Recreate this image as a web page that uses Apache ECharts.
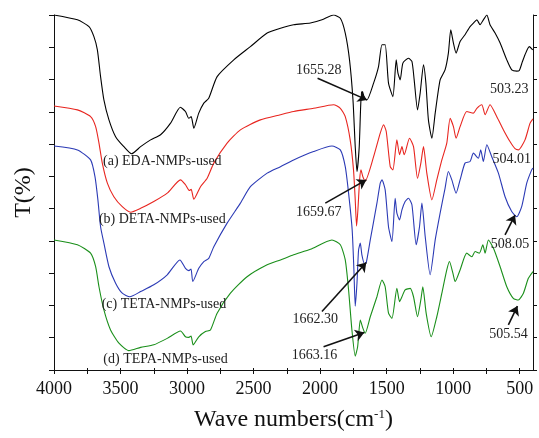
<!DOCTYPE html>
<html>
<head>
<meta charset="utf-8">
<script src="https://cdn.jsdelivr.net/npm/echarts@6/dist/echarts.min.js"></script>
<style>
  html, body { margin: 0; padding: 0; background: #fff; }
  #chart { width: 539px; height: 438px; }
</style>
</head>
<body>
<div id="chart"></div>
<script>
// FTIR spectra, [wave number, T] pairs (T in arbitrary units 0-110)
var edaSpectrum = [
  [4000,110],[3824,108.5],[3737,106.4],[3700,103.3],[3674,99.2],[3650,90.9],[3625,83.7],[3587,77.5],
  [3537,72.3],[3475,69.2],[3417,67.0],[3349,69.2],[3274,71.3],[3199,72.9],[3124,76.5],[3050,81.4],
  [3012,80.1],[2987,78.0],[2969,78.5],[2949,74.9],[2912,79.6],[2874,82.7],[2837,84.2],[2774,90.9],
  [2649,96.1],[2524,100.2],[2398,104.4],[2298,105.9],[2199,107.0],[2073,107.5],[1986,108.5],[1899,110],
  [1848,109.0],[1811,104.4],[1779,96.1],[1753,83.7],[1736,69.2],[1723,61.5],[1706,69.2],[1693,83.7],
  [1681,86.3],[1668,84.2],[1648,83.7],[1598,88.9],[1561,94.0],[1535,100.8],[1511,100.8],[1486,88.9],
  [1453,84.7],[1428,96.1],[1415,92.0],[1398,89.9],[1378,95.1],[1336,96.6],[1310,95.6],[1293,89.9],
  [1268,80.6],[1248,85.8],[1223,94.6],[1205,88.9],[1186,77.5],[1160,71.8],[1135,79.6],[1098,89.9],
  [1061,93.0],[1036,98.2],[1018,105.4],[998,101.3],[978,98.2],[948,101.8],[911,103.9],[873,106.4],
  [848,107.5],[822,108.5],[798,107.0],[773,108.5],[747,110],[723,107.0],[685,104.4],[647,101.3],
  [597,96.1],[560,93.0],[522,92.6],[503,92.8],[480,95.5],[460,97.7],[428,100.2],[402,99.2]
];
var detaSpectrum = [
  [4000,81.8],[3824,80.6],[3725,78.5],[3687,75.4],[3662,70.3],[3637,64.1],[3599,57.9],[3550,53.7],
  [3487,50.6],[3424,48.9],[3349,50.1],[3250,52.2],[3149,54.8],[3049,58.9],[3012,57.4],[2982,55.6],
  [2969,56.0],[2949,52.9],[2899,56.8],[2849,59.4],[2799,64.1],[2699,70.3],[2599,74.4],[2449,77.5],
  [2299,79.1],[2199,80.1],[2049,81.1],[1899,82.2],[1848,81.1],[1811,78.5],[1774,71.3],[1749,62.0],
  [1736,52.7],[1726,44.6],[1716,49.6],[1703,58.9],[1693,62.0],[1678,59.8],[1661,58.6],[1598,66.1],
  [1548,73.4],[1523,76.0],[1503,73.9],[1473,63.0],[1453,62.0],[1423,71.3],[1403,66.7],[1385,69.2],
  [1368,66.7],[1328,71.8],[1298,69.2],[1268,59.4],[1243,64.1],[1223,69.2],[1198,61.0],[1160,52.7],
  [1123,58.9],[1085,65.1],[1048,70.3],[1023,78.0],[998,75.4],[978,71.8],[948,75.4],[898,80.1],
  [848,79.6],[822,81.1],[785,82.2],[760,79.1],[723,82.2],[672,78.5],[622,74.4],[573,70.8],
  [535,68.6],[510,68.2],[460,71.3],[422,76.5],[400,77.8]
];
var tetaSpectrum = [
  [4000,69.4],[3824,68.2],[3725,65.1],[3692,59.9],[3670,52.7],[3650,44.4],[3625,39.3],[3587,32.0],
  [3537,26.9],[3487,23.8],[3430,22.7],[3349,24.3],[3250,26.4],[3149,29.5],[3054,34.1],[3012,31.5],
  [2987,30.8],[2970,31.3],[2957,27.4],[2912,31.5],[2874,33.6],[2837,34.6],[2799,38.2],[2699,45.5],
  [2599,51.7],[2524,56.8],[2398,61.0],[2298,63.0],[2199,65.1],[2049,67.7],[1911,69.4],[1848,68.2],
  [1811,63.0],[1786,54.8],[1759,43.4],[1746,31.0],[1736,19.8],[1723,26.9],[1711,37.2],[1698,39.3],
  [1686,35.7],[1668,33.1],[1653,33.3],[1623,40.3],[1573,51.7],[1548,57.9],[1535,58.9],[1511,55.8],
  [1486,44.4],[1460,39.8],[1436,53.2],[1423,48.6],[1403,46.5],[1385,49.6],[1361,52.2],[1336,53.2],
  [1310,51.2],[1278,38.8],[1253,44.4],[1235,51.7],[1210,41.3],[1173,29.5],[1135,40.3],[1098,48.6],
  [1061,56.3],[1036,61.5],[1010,58.9],[978,54.8],[948,58.9],[911,64.1],[873,64.6],[848,67.2],
  [811,65.6],[793,68.2],[773,64.6],[747,69.8],[710,66.1],[660,61.0],[610,53.7],[560,49.1],
  [522,47.5],[485,50.6],[447,57.9],[410,62.0],[400,62.6]
];
var tepaSpectrum = [
  [4000,40.3],[3824,38.8],[3725,36.2],[3687,32.0],[3662,25.8],[3625,18.6],[3575,12.4],[3512,8.3],
  [3437,6.0],[3349,7.0],[3250,7.8],[3149,9.8],[3049,12.1],[3012,10.3],[2987,10.1],[2970,10.5],
  [2954,7.8],[2912,10.3],[2862,11.9],[2824,12.4],[2774,17.6],[2674,23.8],[2549,28.9],[2398,32.6],
  [2298,34.1],[2199,35.7],[2073,37.4],[1911,40.3],[1848,38.8],[1811,34.1],[1786,24.8],[1761,12.4],
  [1736,4.3],[1718,7.2],[1698,15.5],[1678,12.9],[1661,11.4],[1623,16.5],[1573,22.7],[1535,27.9],
  [1511,25.8],[1486,17.6],[1460,16.0],[1423,25.3],[1403,21.2],[1385,22.7],[1361,24.8],[1323,25.3],
  [1298,22.7],[1268,16.5],[1243,21.7],[1228,25.8],[1203,17.6],[1165,10.3],[1123,16.5],[1085,23.8],
  [1048,31.0],[1028,33.6],[1002,30.0],[985,27.4],[948,31.0],[898,36.2],[860,35.1],[835,36.7],
  [803,36.2],[777,38.8],[760,36.2],[735,40.3],[697,37.7],[647,32.0],[597,25.8],[548,22.2],
  [510,21.7],[472,23.8],[435,28.4],[400,30.5]
];

var seriesNames = ['EDA', 'DETA', 'TETA', 'TEPA'];
var seriesColors = ['#000000', '#e8251f', '#2b3ab5', '#1a8f1a'];

var xLabelValues = [4000, 3500, 3000, 2500, 2000, 1500, 1000, 500];
var xTickValues = [4000, 3750, 3500, 3250, 3000, 2750, 2500, 2250, 2000, 1750, 1500, 1250, 1000, 750, 500];

// peak labels: [text, wave number, T]
var peakLabels = [
  ['1655.28', 2011, 92.8], ['503.23', 578, 87.0],
  ['1659.67', 2011, 48.8], ['504.01', 560, 65.3],
  ['508.05', 573, 39.0], ['1662.30', 2036, 15.8],
  ['1663.16', 2043, 4.7], ['505.54', 585, 11.2]
];
var curveLabels = [
  ['(a) EDA-NMPs-used', 3186, 64.8],
  ['(b) DETA-NMPs-used', 3186, 46.7],
  ['(c) TETA-NMPs-used', 3174, 20.4],
  ['(d) TEPA-NMPs-used', 3162, 3.3]
];
// arrows: [from wave, from T, to wave, to T]
var arrows = [
  [2019, 90.4, 1648, 83.7],
  [1961, 51.7, 1653, 58.9],
  [610, 41.9, 535, 48.0],
  [1986, 18.1, 1653, 33.3],
  [1974, 7.2, 1668, 11.6],
  [585, 14.0, 517, 19.8]
];

var serif = '"Liberation Serif", "DejaVu Serif", serif';

var chart = echarts.init(document.getElementById('chart'));

var spectra = [edaSpectrum, detaSpectrum, tetaSpectrum, tepaSpectrum];
var series = spectra.map(function (d, i) {
  return {
    name: seriesNames[i],
    type: 'line',
    data: d,
    showSymbol: false,
    smooth: 0.2,
    lineStyle: { color: seriesColors[i], width: 1.1 },
    itemStyle: { color: seriesColors[i] }
  };
});

var textPoints = peakLabels.concat(curveLabels).map(function (p) {
  return {
    name: p[0],
    coord: [p[1], p[2]],
    symbol: 'circle',
    symbolSize: 0,
    label: {
      show: true,
      position: 'inside',
      formatter: p[0],
      color: '#222',
      fontFamily: serif,
      fontSize: 14
    }
  };
});

series[0].markPoint = { silent: true, animation: false, data: textPoints };
series[0].markLine = {
  silent: true,
  animation: false,
  symbol: ['none', 'arrow'],
  symbolSize: 9,
  lineStyle: { color: '#111', width: 1.6, type: 'solid' },
  label: { show: false },
  data: arrows.map(function (a) {
    return [{ coord: [a[0], a[1]] }, { coord: [a[2], a[3]] }];
  })
};

var option = {
  animation: false,
  backgroundColor: '#fff',
  grid: { left: 54, right: 6, top: 15, bottom: 68 },
  xAxis: [
    {
      type: 'value',
      inverse: true,
      min: 400,
      max: 4000,
      position: 'bottom',
      name: 'Wave numbers(cm{sup|-1})',
      nameLocation: 'middle',
      nameGap: 38,
      nameTextStyle: {
        fontFamily: serif,
        fontSize: 24,
        color: '#111',
        rich: {
          sup: { fontFamily: serif, fontSize: 13, verticalAlign: 'top', color: '#111' }
        }
      },
      axisLine: { lineStyle: { color: '#111', width: 1 } },
      axisTick: { inside: false, length: 4, customValues: xTickValues, lineStyle: { color: '#111' } },
      axisLabel: {
        customValues: xLabelValues,
        formatter: function (v) { return String(v); },
        margin: 10,
        fontFamily: serif,
        fontSize: 18,
        color: '#111'
      },
      splitLine: { show: false }
    },
    {
      type: 'value',
      inverse: true,
      min: 400,
      max: 4000,
      position: 'top',
      axisLine: { lineStyle: { color: '#111', width: 1 } },
      axisTick: { inside: false, length: 2, customValues: xTickValues, lineStyle: { color: '#111' } },
      axisLabel: { show: false },
      splitLine: { show: false }
    }
  ],
  yAxis: [
    {
      type: 'value',
      min: 0,
      max: 110,
      interval: 10,
      position: 'left',
      name: 'T(%)',
      nameLocation: 'middle',
      nameGap: 18,
      nameTextStyle: { fontFamily: serif, fontSize: 24, color: '#111' },
      axisLine: { show: true, lineStyle: { color: '#111', width: 1 } },
      axisTick: { show: true, inside: false, length: 5, lineStyle: { color: '#111' } },
      axisLabel: { show: false },
      splitLine: { show: false }
    },
    {
      type: 'value',
      min: 0,
      max: 110,
      interval: 10,
      position: 'right',
      axisLine: { show: true, lineStyle: { color: '#111', width: 1 } },
      axisTick: { show: true, inside: false, length: 4, lineStyle: { color: '#111' } },
      axisLabel: { show: false },
      splitLine: { show: false }
    }
  ],
  series: series
};

chart.setOption(option);
</script>
</body>
</html>
